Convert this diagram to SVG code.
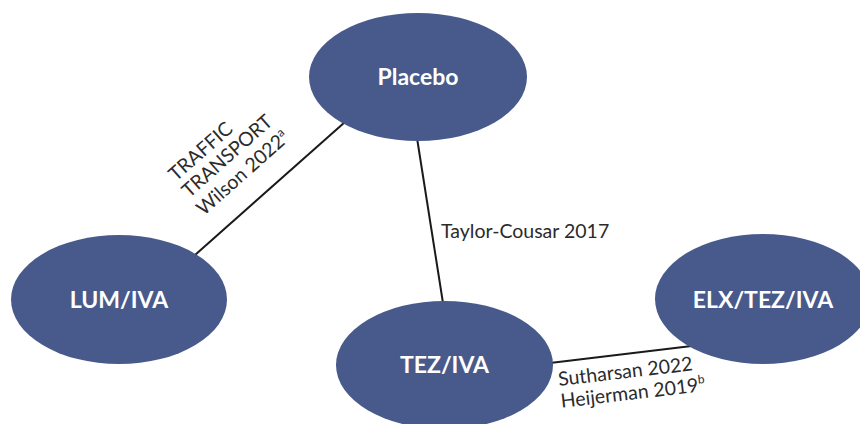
<svg xmlns="http://www.w3.org/2000/svg" width="860" height="424" viewBox="0 0 860 424">
  <style>
    .node { fill: #475a8b; }
    .node-label { font-family: Lato, "Open Sans", "Liberation Sans", sans-serif; font-weight: bold; font-size: 23px; fill: #ffffff; text-anchor: middle; }
    .edge { stroke: #1a1a1a; stroke-width: 2; fill: none; }
    .edge-label { font-family: Lato, "Open Sans", "Liberation Sans", sans-serif; font-size: 19.5px; fill: #2b2b2b; }
    .sup { font-size: 12px; }
  </style>
  <rect width="860" height="424" fill="#ffffff"/>

  <!-- connectors, drawn under the nodes -->
  <g id="connectors">
    <line class="edge" x1="345" y1="122" x2="195" y2="255"/>
    <line class="edge" x1="417" y1="138" x2="443" y2="303"/>
    <line class="edge" x1="550" y1="363" x2="700" y2="345"/>
    <text class="edge-label" transform="translate(176,182) rotate(-41.5)">
      <tspan x="0" y="0">TRAFFIC</tspan>
      <tspan x="-1" y="21">TRANSPORT</tspan>
      <tspan x="-2" y="44">Wilson 2022<tspan class="sup" dy="-8">a</tspan></tspan>
    </text>
    <text class="edge-label" x="441" y="238">Taylor-Cousar 2017</text>
    <text class="edge-label" transform="translate(559,386) rotate(-6.7)">
      <tspan x="0" y="0">Sutharsan 2022</tspan>
      <tspan x="0" y="22">Heijerman 2019<tspan class="sup" dy="-8">b</tspan></tspan>
    </text>
  </g>

  <g id="placebo">
    <ellipse class="node" cx="418" cy="77" rx="109" ry="64"/>
    <text class="node-label" x="418" y="85">Placebo</text>
  </g>
  <g id="lum-iva">
    <ellipse class="node" cx="119" cy="299.5" rx="108" ry="64.5"/>
    <text class="node-label" x="119" y="308">LUM/IVA</text>
  </g>
  <g id="tez-iva">
    <ellipse class="node" cx="444.5" cy="365" rx="108.5" ry="64"/>
    <text class="node-label" x="444.5" y="373">TEZ/IVA</text>
  </g>
  <g id="elx-tez-iva">
    <ellipse class="node" cx="763" cy="299" rx="108" ry="65"/>
    <text class="node-label" x="763" y="308">ELX/TEZ/IVA</text>
  </g>
</svg>
